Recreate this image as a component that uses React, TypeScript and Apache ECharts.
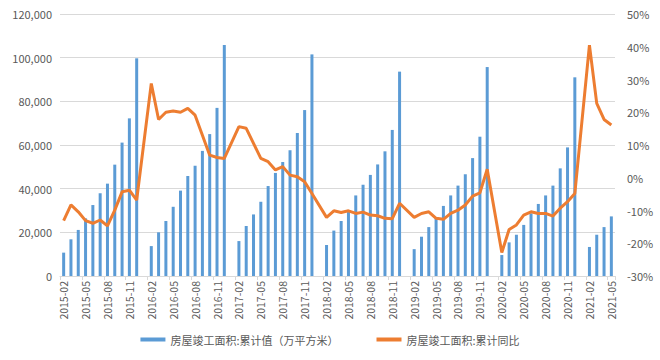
import React, { useEffect, useRef } from "react";
import * as echarts from "echarts";

const categories = [
  "2015-02","2015-03","2015-04","2015-05","2015-06","2015-07","2015-08","2015-09","2015-10","2015-11","2015-12",
  "2016-01","2016-02","2016-03","2016-04","2016-05","2016-06","2016-07","2016-08","2016-09","2016-10","2016-11","2016-12",
  "2017-01","2017-02","2017-03","2017-04","2017-05","2017-06","2017-07","2017-08","2017-09","2017-10","2017-11","2017-12",
  "2018-01","2018-02","2018-03","2018-04","2018-05","2018-06","2018-07","2018-08","2018-09","2018-10","2018-11","2018-12",
  "2019-01","2019-02","2019-03","2019-04","2019-05","2019-06","2019-07","2019-08","2019-09","2019-10","2019-11","2019-12",
  "2020-01","2020-02","2020-03","2020-04","2020-05","2020-06","2020-07","2020-08","2020-09","2020-10","2020-11","2020-12",
  "2021-01","2021-02","2021-03","2021-04","2021-05",
];

const completedArea: (number | null)[] = [
  10700, 16800, 21100, 26400, 32500, 37900, 42300, 51000, 61100, 72200, 99700,
  null, 13700, 20000, 25200, 31700, 39100, 45800, 50500, 57300, 65000, 77000, 105800,
  null, 16000, 22900, 28200, 34000, 41200, 47200, 52200, 57600, 65500, 76000, 101500,
  null, 14200, 20800, 25200, 29300, 36900, 41800, 46300, 51100, 57100, 66900, 93600,
  null, 12300, 18000, 22400, 26400, 32100, 36900, 41400, 46600, 54000, 63800, 95700,
  null, 9600, 15400, 18900, 23400, 28700, 33000, 36900, 41400, 49300, 58900, 91000,
  null, 13300, 18900, 22400, 27300,
];

const yoyGrowth: (number | null)[] = [
  -13.1, -8.3, -10.4, -13.1, -13.9, -12.9, -14.7, -9.9, -4.3, -3.8, -6.8,
  null, 28.8, 17.8, 20.0, 20.4, 20.0, 21.2, 19.1, 13.0, 6.9, 6.2, 5.9,
  null, 15.6, 15.1, 10.5, 5.9, 4.9, 2.4, 3.4, 0.8, 0.3, -1.2, -4.8,
  null, -12.1, -10.1, -10.6, -10.1, -10.9, -10.5, -11.4, -11.6, -12.4, -12.5, -7.8,
  null, -12.1, -10.9, -10.4, -12.4, -12.7, -10.9, -9.9, -8.3, -5.6, -4.6, 2.6,
  null, -22.8, -15.8, -14.4, -11.4, -10.4, -10.9, -10.9, -11.7, -9.3, -7.3, -4.8,
  null, 40.5, 22.7, 17.8, 16.1,
];

const barName = "房屋竣工面积:累计值（万平方米）";
const lineName = "房屋竣工面积:累计同比";

const FONT = "'Noto Sans CJK SC', 'Noto Sans', sans-serif";
const TEXT = "#595959";

export default function App() {
  const ref = useRef<HTMLDivElement>(null);
  useEffect(() => {
    document.body.style.margin = "0";
    if (!ref.current) return;
    const chart = echarts.init(ref.current, null, { renderer: "svg" });
    chart.setOption({
      animation: false,
      textStyle: { fontFamily: FONT },
      grid: { left: 60, right: 45, top: 14, bottom: 84 },
      legend: {
        bottom: 10,
        left: "center",
        itemGap: 38,
        textStyle: { color: TEXT, fontSize: 11, fontFamily: FONT },
        data: [
          { name: barName, icon: "rect", itemStyle: { color: "#5B9BD5" } },
          { name: lineName, icon: "rect", itemStyle: { color: "#ED7D31" } },
        ],
        itemWidth: 25,
        itemHeight: 4,
      },
      xAxis: {
        type: "category",
        data: categories,
        axisLine: { lineStyle: { color: "#D9D9D9" } },
        axisTick: { show: true, interval: 2, length: 4, lineStyle: { color: "#D9D9D9" } },
        axisLabel: {
          interval: 2,
          rotate: 90,
          color: TEXT,
          fontSize: 10.5,
          fontFamily: FONT,
          margin: 5,
        },
      },
      yAxis: [
        {
          type: "value",
          min: 0,
          max: 120000,
          interval: 20000,
          axisLine: { show: false },
          axisTick: { show: false },
          splitLine: { lineStyle: { color: "#D9D9D9" } },
          axisLabel: {
            color: TEXT,
            fontSize: 11,
            fontFamily: FONT,
            formatter: (v: number) => v.toLocaleString("en-US"),
          },
        },
        {
          type: "value",
          min: -30,
          max: 50,
          interval: 10,
          axisLine: { show: false },
          axisTick: { show: false },
          splitLine: { show: false },
          axisLabel: {
            color: TEXT,
            fontSize: 11,
            fontFamily: FONT,
            margin: 12,
            formatter: (v: number) => `${v}%`,
          },
        },
      ],
      series: [
        {
          name: barName,
          type: "bar",
          data: completedArea,
          barWidth: 3,
          itemStyle: { color: "#5B9BD5" },
        },
        {
          name: lineName,
          type: "line",
          yAxisIndex: 1,
          data: yoyGrowth,
          connectNulls: true,
          showSymbol: false,
          symbol: "none",
          lineStyle: { color: "#ED7D31", width: 3 },
          itemStyle: { color: "#ED7D31" },
        },
      ],
    });
    return () => chart.dispose();
  }, []);
  return <div ref={ref} style={{ width: 660, height: 360 }} />;
}
